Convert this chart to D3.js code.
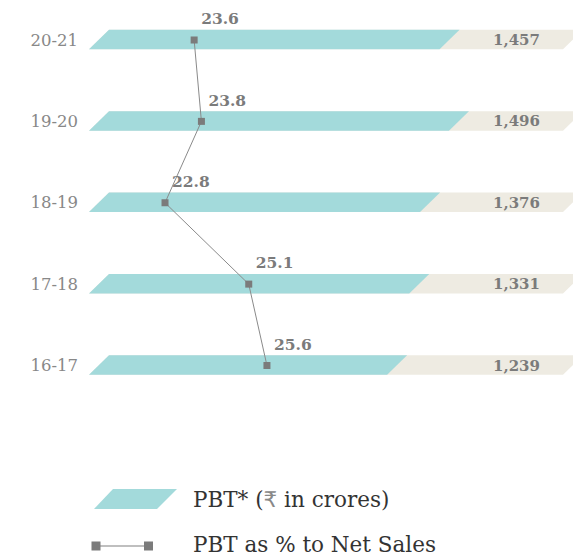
<!DOCTYPE html>
<html><head><meta charset="utf-8">
<script src="https://cdn.jsdelivr.net/npm/d3@7"></script>
<style>
html,body{margin:0;padding:0;background:#fff;}
svg{display:block;}
</style>
</head><body>
<svg id="chart" width="573" height="556"></svg>
<script>
const years = ["20-21","19-20","18-19","17-18","16-17"];
const pbt = [1457, 1496, 1376, 1331, 1239];
const pbtPct = [23.6, 23.8, 22.8, 25.1, 25.6];
const pbtLabels = ["1,457","1,496","1,376","1,331","1,239"];
const legendLabels = ["PBT* (", "₹", " in crores)", "PBT as % to Net Sales"];

const svg = d3.select("#chart");
const teal = "#a3dadb", beige = "#eeebe2", gray = "#7b7b7b";
const serif = "'DejaVu Serif', serif";
const barH = 19.5, slant = 20, barLeft = 109;

const y = d3.scalePoint().domain(years).range([39.5, 365]);
const x = d3.scaleLinear().domain([0, 1970]).range([0, 474]);
const xp = d3.scaleLinear().domain([22, 26]).range([135.9, 281.5]);

function para(x0, w, yc){
  const t = yc - barH/2, b = yc + barH/2;
  return `M${x0},${t}L${x0+w},${t}L${x0+w-slant},${b}L${x0-slant},${b}Z`;
}

const g = svg.append("g");
years.forEach((yr,i)=>{
  g.append("path").attr("d", para(barLeft, x(x.domain()[1]), y(yr))).attr("fill", beige);
  g.append("path").attr("d", para(barLeft, x(pbt[i]), y(yr))).attr("fill", teal);
  g.append("text").attr("x", 78).attr("y", y(yr)+6).attr("text-anchor","end")
    .attr("font-family",serif).attr("font-size",16.5).attr("fill","#888").text(yr);
  g.append("text").attr("x", 540).attr("y", y(yr)+5.5).attr("text-anchor","end")
    .attr("font-family",serif).attr("font-weight","bold").attr("font-size",15).attr("fill",gray).text(pbtLabels[i]);
});

const line = d3.line().x((d,i)=>xp(d)).y((d,i)=>y(years[i])+0.5);
g.append("path").datum(pbtPct).attr("d", line).attr("fill","none").attr("stroke","#8a8a8a").attr("stroke-width",1);
pbtPct.forEach((v,i)=>{
  g.append("rect").attr("x", xp(v)-3.5).attr("y", y(years[i])+0.5-3.5).attr("width",7).attr("height",7).attr("fill",gray);
  g.append("text").attr("x", xp(v)+7).attr("y", y(years[i])-barH/2-5.5)
    .attr("font-family",serif).attr("font-weight","bold").attr("font-size",15.5).attr("fill",gray).text(v.toFixed(1));
});

// legend
const lg = svg.append("g");
lg.append("path").attr("d","M113,489L177,489L157,509L94,509Z").attr("fill",teal);
const t1 = lg.append("text").attr("x",193).attr("y",507).attr("font-family",serif).attr("font-size",21.5).attr("fill","#333");
t1.append("tspan").text(legendLabels[0]);
t1.append("tspan").attr("fill","#888").attr("font-family","'DejaVu Sans', sans-serif").text(legendLabels[1]);
t1.append("tspan").text(legendLabels[2]);
lg.append("line").attr("x1",96).attr("x2",148.5).attr("y1",546).attr("y2",546).attr("stroke","#aaa").attr("stroke-width",1.5);
lg.append("rect").attr("x",91.5).attr("y",541.5).attr("width",9).attr("height",9).attr("fill",gray);
lg.append("rect").attr("x",144).attr("y",541.5).attr("width",9).attr("height",9).attr("fill",gray);
lg.append("text").attr("x",193).attr("y",552).attr("font-family",serif).attr("font-size",21.5).attr("fill","#333").text(legendLabels[3]);
</script>
</body></html>
